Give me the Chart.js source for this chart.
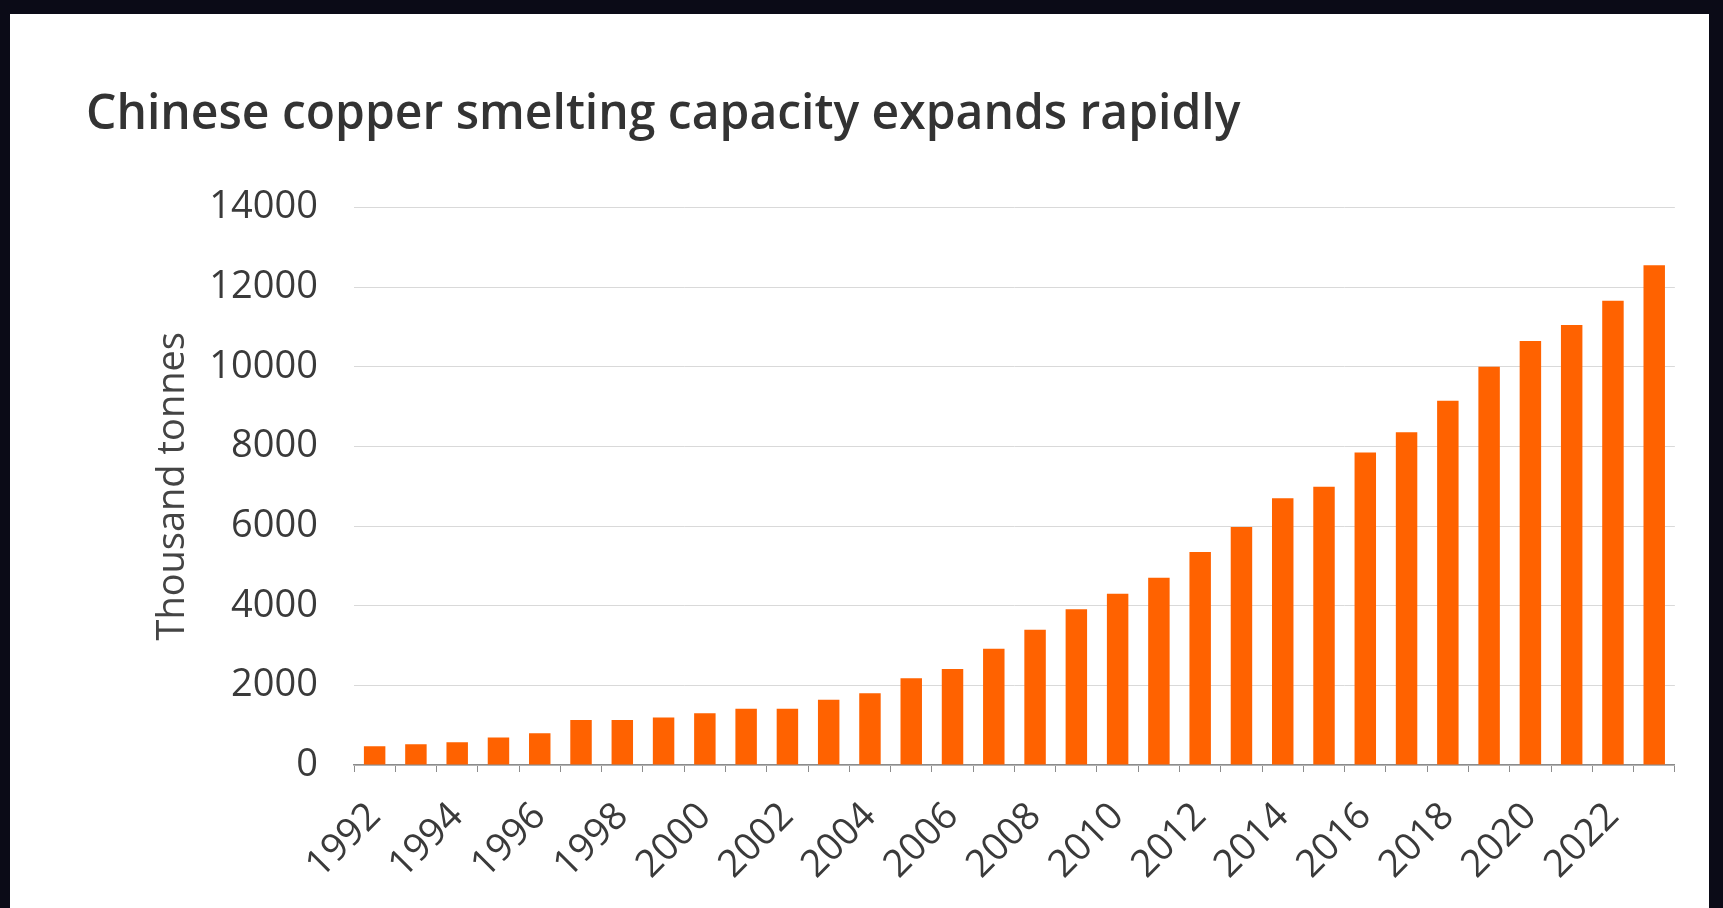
<!DOCTYPE html>
<html>
<head>
<meta charset="utf-8">
<script src="https://cdn.jsdelivr.net/npm/chart.js@4"></script>
<style>
    html, body { margin: 0; padding: 0; background: #0b0b17; }
    body { width: 1723px; height: 908px; overflow: hidden; position: relative; }
    #panel { position: absolute; left: 10px; top: 14px; width: 1699px; height: 894px; background: #ffffff; }
    canvas { display: block; }
</style>
</head>
<body>
<div id="panel"><canvas id="capacityChart" width="1699" height="894"></canvas></div>
<script>
// Chinese copper smelting capacity, thousand tonnes
const years = [
    "1992", "1993", "1994", "1995", "1996", "1997", "1998", "1999",
    "2000", "2001", "2002", "2003", "2004", "2005", "2006", "2007",
    "2008", "2009", "2010", "2011", "2012", "2013", "2014", "2015",
    "2016", "2017", "2018", "2019", "2020", "2021", "2022", "2023",
];
const capacity = [
    470, 520, 570, 690, 800, 1130, 1130, 1190,
    1300, 1410, 1410, 1640, 1800, 2180, 2410, 2920,
    3400, 3910, 4300, 4700, 5350, 5980, 6700, 6990,
    7850, 8360, 9150, 10000, 10650, 11050, 11660, 12550,
];
const yTicks = [0, 2000, 4000, 6000, 8000, 10000, 12000, 14000];

const textColor = "#3a3a3a";
const fontFamily = "'Open Sans', 'Noto Sans', sans-serif";

document.addEventListener("DOMContentLoaded", function () {
    const ctx = document.getElementById("capacityChart").getContext("2d");
    new Chart(ctx, {
        type: "bar",
        data: {
            labels: years,
            datasets: [
                {
                    label: "Capacity",
                    data: capacity,
                    backgroundColor: "#ff6200",
                    borderWidth: 0,
                    barPercentage: 0.52,
                    categoryPercentage: 1,
                },
            ],
        },
        options: {
            responsive: false,
            animation: false,
            devicePixelRatio: 1,
            layout: { padding: { left: 76, right: 34, top: 0, bottom: 0 } },
            plugins: {
                legend: { display: false },
                tooltip: { enabled: false },
                title: {
                    display: true,
                    text: "Chinese copper smelting capacity expands rapidly",
                    align: "start",
                    color: "#333333",
                    font: { family: fontFamily, size: 48, weight: "600" },
                    padding: { top: 73, bottom: 63 },
                },
            },
            scales: {
                x: {
                    afterFit: function (scale) {
                        scale.height = 143;
                    },
                    grid: {
                        drawOnChartArea: false,
                        color: "#8c8c8c",
                        tickLength: 7,
                    },
                    border: { display: true, color: "#8c8c8c", width: 1.5 },
                    ticks: {
                        autoSkip: false,
                        maxRotation: 45,
                        minRotation: 45,
                        padding: 22,
                        color: textColor,
                        font: { family: fontFamily, size: 38 },
                        // only every second year gets a label
                        callback: function (value, index) {
                            return index % 2 === 0 ? years[index] : "";
                        },
                    },
                },
                y: {
                    min: 0,
                    max: 14000,
                    afterFit: function (scale) {
                        scale.width = 268;
                    },
                    afterBuildTicks: function (scale) {
                        scale.ticks = yTicks.map(function (v) {
                            return { value: v };
                        });
                    },
                    grid: { color: "#d9d9d9", drawTicks: false },
                    border: { display: false },
                    ticks: {
                        padding: 36,
                        color: textColor,
                        font: { family: fontFamily, size: 38 },
                        callback: function (value) {
                            return String(value);
                        },
                    },
                    title: {
                        display: true,
                        text: "Thousand tonnes",
                        color: "#444444",
                        font: { family: fontFamily, size: 38 },
                        padding: { top: 64, bottom: 0 },
                    },
                },
            },
        },
    });
});
</script>
</body>
</html>
